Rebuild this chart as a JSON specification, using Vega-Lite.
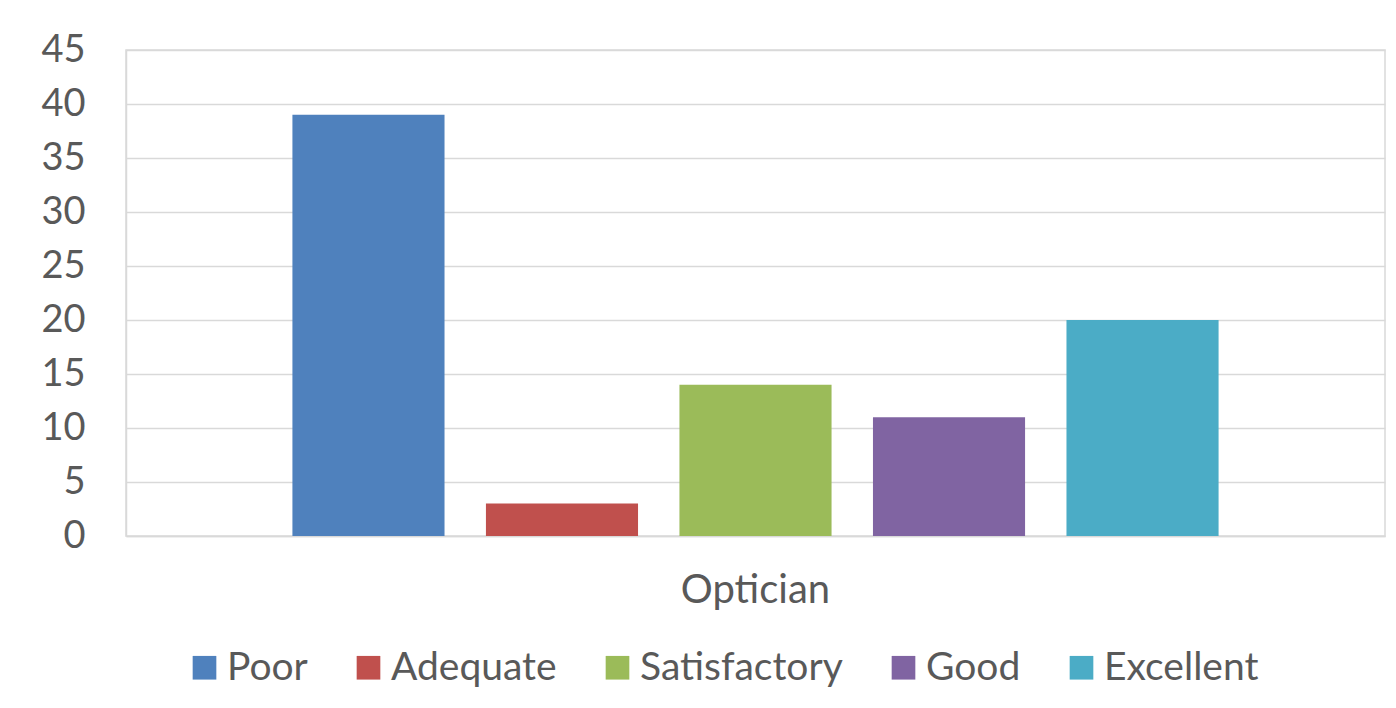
{
  "$schema": "https://vega.github.io/schema/vega-lite/v6.json",
  "autosize": {"type": "none"},
  "width": 1259,
  "height": 486,
  "padding": {"left": 126, "top": 50, "right": 11, "bottom": 172},
  "background": "white",
  "data": {"values": [
    {"group": "Optician", "rating": "Poor", "count": 39},
    {"group": "Optician", "rating": "Adequate", "count": 3},
    {"group": "Optician", "rating": "Satisfactory", "count": 14},
    {"group": "Optician", "rating": "Good", "count": 11},
    {"group": "Optician", "rating": "Excellent", "count": 20}
  ]},
  "mark": {"type": "bar"},
  "encoding": {
    "x": {"field": "group", "type": "nominal",
      "scale": {"paddingInner": 0, "paddingOuter": 0.1506},
      "axis": {"title": null, "labelAngle": 0, "ticks": false, "domainColor": "#D9D9D9", "domainWidth": 1.5,
        "labelFont": "Lato", "labelFontSize": 40, "labelColor": "#595959", "labelPadding": 34}},
    "xOffset": {"field": "rating", "type": "nominal",
      "sort": ["Poor", "Adequate", "Satisfactory", "Good", "Excellent"],
      "scale": {"paddingInner": 0.214, "paddingOuter": 0.107}},
    "y": {"field": "count", "type": "quantitative",
      "scale": {"domain": [0, 45], "nice": false},
      "axis": {"title": null, "values": [0, 5, 10, 15, 20, 25, 30, 35, 40, 45], "ticks": false,
        "domainColor": "#D9D9D9", "domainWidth": 1.5, "gridColor": "#D9D9D9", "gridWidth": 1.5,
        "labelFont": "Lato", "labelFontSize": 38, "labelColor": "#595959", "labelPadding": 41}},
    "color": {"field": "rating", "type": "nominal",
      "sort": ["Poor", "Adequate", "Satisfactory", "Good", "Excellent"],
      "scale": {"domain": ["Poor", "Adequate", "Satisfactory", "Good", "Excellent"],
        "range": ["#4F81BD", "#C0504D", "#9BBB59", "#8064A2", "#4BACC6"]},
      "legend": {"title": null, "orient": "none", "legendX": 59, "legendY": 598, "direction": "horizontal",
        "symbolType": "square", "symbolSize": 560, "symbolStrokeWidth": 0,
        "labelFont": "Lato", "labelFontSize": 39, "labelColor": "#595959", "labelLimit": 400,
        "labelOffset": 3, "columnPadding": 41}}
  },
  "config": {
    "view": {"stroke": "#D9D9D9", "strokeWidth": 1.5}
  }
}
